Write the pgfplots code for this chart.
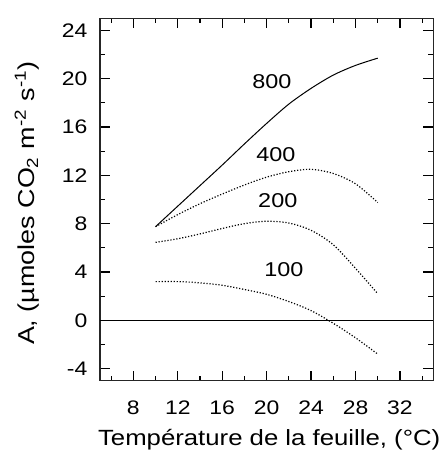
\documentclass[border=0pt]{standalone}
\usepackage{pgfplots}
\pgfplotsset{compat=1.18}
\usepackage{fontspec}
\setmainfont{Liberation Sans}[FakeStretch=1.17]
\begin{document}
\begin{tikzpicture}
\begin{axis}[
  scale only axis, width=166.65pt, height=181.2pt,
  xmin=5, xmax=35, ymin=-5, ymax=25,
  xtick={8,12,...,32}, minor xtick={6,10,...,34},
  ytick={-4,0,...,24}, minor ytick={-2,2,...,22},
  tick align=inside, major tick length=5pt, minor tick length=2.5pt,
  axis line style={line width=0.6pt, black!85},
  every tick/.style={line width=0.6pt, black},
  /pgf/number format/assume math mode=true,
  ticklabel style={font=\fontsize{9.8}{12}\selectfont},
  xticklabel style={yshift=-6.4pt},
  yticklabel style={xshift=-2.8pt},
  xlabel={Température de la feuille, (°C)},
  ylabel={A, (µmoles CO\textsubscript{2} m\textsuperscript{-2} s\textsuperscript{-1})},
  xlabel style={at={(axis description cs:0.5076,-0.163)}, anchor=center, font=\fontsize{11}{13}\selectfont},
  ylabel style={at={(axis description cs:-0.219,0.49)}, anchor=center, font=\fontsize{11.5}{13}\selectfont},
  clip=false,
]
\addplot[black, line width=0.6pt] coordinates {(5,0) (35,0)};
\addplot[black, line width=0.5pt, smooth] coordinates {
(10,7.75)(12,9.45)(14,11.15)(16,12.85)(18,14.6)(20,16.3)(22,17.9)(24,19.2)(26,20.3)(28,21.1)(30,21.7)};
\addplot[black, line width=0.6pt, smooth, dash pattern=on 0.6pt off 0.9pt] coordinates {
(10,7.75)(12,8.75)(14,9.65)(16,10.45)(18,11.2)(20,11.85)(22,12.3)(24,12.5)(26,12.15)(28,11.3)(30,9.75)};
\addplot[black, line width=0.6pt, smooth, dash pattern=on 0.6pt off 0.9pt] coordinates {
(10,6.45)(12,6.75)(14,7.15)(16,7.6)(18,8.0)(20,8.2)(22,8.05)(24,7.45)(26,6.25)(28,4.3)(30,2.2)};
\addplot[black, line width=0.6pt, smooth, dash pattern=on 0.6pt off 0.9pt] coordinates {
(10,3.2)(12,3.2)(14,3.1)(16,2.9)(18,2.55)(20,2.15)(22,1.55)(24,0.8)(26,-0.25)(28,-1.45)(30,-2.8)};
\node[font=\fontsize{10}{12}\selectfont] at (axis cs:20.48,19.73) {800};
\node[font=\fontsize{10}{12}\selectfont] at (axis cs:20.84,13.68) {400};
\node[font=\fontsize{10}{12}\selectfont] at (axis cs:21.0,9.92) {200};
\node[font=\fontsize{10}{12}\selectfont] at (axis cs:21.56,4.16) {100};
\end{axis}
\pgfresetboundingbox
\path ([xshift=-50pt,yshift=-38.15pt]current axis.south west) rectangle ([xshift=5.35pt,yshift=9.15pt]current axis.north east);
\end{tikzpicture}
\end{document}
